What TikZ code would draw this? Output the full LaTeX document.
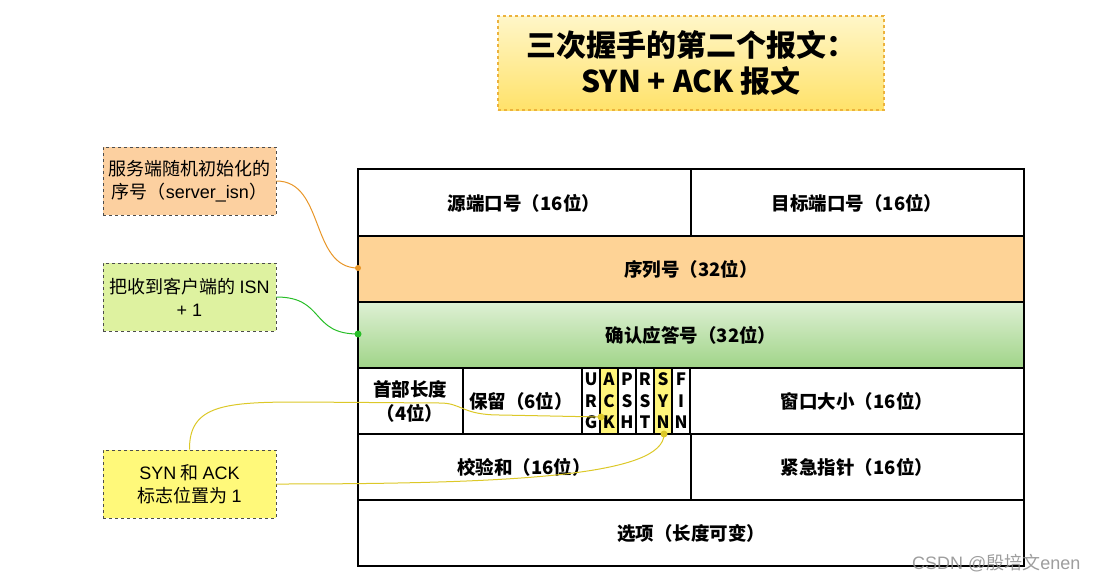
\documentclass[tikz,border=0pt]{standalone}
\usepackage{fontspec}
\setmainfont{Noto Sans CJK SC}
\newfontfamily\lat{Liberation Sans}
\usetikzlibrary{shadings}
\definecolor{peach}{RGB}{254,211,150}
\definecolor{boxpeach}{RGB}{252,208,160}
\definecolor{boxgreen}{RGB}{222,242,160}
\definecolor{boxyellow}{RGB}{255,249,122}
\definecolor{flagyellow}{RGB}{255,245,122}
\definecolor{gtop}{RGB}{222,240,212}
\definecolor{gbot}{RGB}{160,212,136}
\definecolor{ttop}{RGB}{255,246,200}
\definecolor{tbot}{RGB}{255,226,106}
\definecolor{tborder}{RGB}{236,178,60}
\definecolor{lorange}{RGB}{232,150,40}
\definecolor{lgreen}{RGB}{40,190,40}
\definecolor{lyellow}{RGB}{220,200,40}
\begin{document}
\begin{tikzpicture}[x=1pt,y=-1pt,
  cell/.style={draw=black,line width=1.7pt},
  celltext/.style={font=\fontsize{18.5}{22}\selectfont\bfseries,align=center},
  note/.style={draw=black!70,dashed,line width=0.9pt,minimum width=173pt,minimum height=68pt,align=center,font=\fontsize{18}{23}\selectfont,inner sep=1pt},
  flag/.style={font=\fontsize{17}{21.5}\selectfont\bfseries,align=center,inner sep=0pt},
  dot/.style={circle,fill,inner sep=0pt,minimum size=7pt}]
\useasboundingbox (0,0) rectangle (1096,582);
% title
\node[draw=tborder,dashed,line width=1.2pt,top color=ttop,bottom color=tbot,
  minimum width=386pt,minimum height=94pt,align=center,
  font=\fontsize{30}{36}\selectfont\bfseries] (title) at (691,63)
  {三次握手的第二个报文：\\SYN + ACK 报文};
% table fills
\fill[peach] (358,236) rectangle (1024,302);
\shade[top color=gtop,bottom color=gbot] (358,302) rectangle (1024,368);
\fill[flagyellow] (600,368) rectangle (618,434);
\fill[flagyellow] (654,368) rectangle (672,434);
% table lines
\draw[cell] (358,169) rectangle (1024,566);
\foreach \yy in {236,302,368,434,500} \draw[cell] (358,\yy) -- (1024,\yy);
\draw[cell] (691,169) -- (691,236);
\draw[cell] (691,434) -- (691,500);
\draw[cell] (463,368) -- (463,434);
\draw[cell] (582,368) -- (582,434);
\draw[cell] (690,368) -- (690,434);
\foreach \xx in {600,618,636,654,672} \draw[black,line width=1.2pt] (\xx,368) -- (\xx,434);
% table texts
\node[celltext] (src) at (524,203) {源端口号（16位）};
\node[celltext] (dst) at (857,203) {目标端口号（16位）};
\node[celltext] (seq) at (691,269) {序列号（32位）};
\node[celltext] (ack) at (691,335) {确认应答号（32位）};
\node[celltext,font=\fontsize{18.5}{24}\selectfont\bfseries] (hdr) at (410,401) {首部长度\\（4位）};
\node[celltext] (rsv) at (521,401) {保留（6位）};
\node[celltext] (win) at (857,401) {窗口大小（16位）};
\node[celltext] (chk) at (524,467) {校验和（16位）};
\node[celltext] (urg) at (857,467) {紧急指针（16位）};
\node[celltext] (opt) at (691,533) {选项（长度可变）};
\node[flag] (fU) at (591,401) {U\\R\\G};
\node[flag] (fA) at (609,401) {A\\C\\K};
\node[flag] (fP) at (627,401) {P\\S\\H};
\node[flag] (fR) at (645,401) {R\\S\\T};
\node[flag] (fS) at (663,401) {S\\Y\\N};
\node[flag] (fF) at (681,401) {F\\I\\N};
% notes
\node[note,fill=boxpeach] (n1) at (189.5,181) {服务端随机初始化的\\序号（{\lat server\_isn}）};
\node[note,fill=boxgreen] (n2) at (189.5,297) {把收到客户端的 {\lat ISN}\\{\lat + 1}};
\node[note,fill=boxyellow] (n3) at (189.5,484) {{\lat SYN} 和 {\lat ACK}\\标志位置为 {\lat 1}};
% connector endpoints
\node[dot,fill=lorange,minimum size=6pt] (d1) at (358,268) {};
\node[dot,fill=lgreen] (d2) at (358,334) {};
\node[dot,fill=lyellow] (d3) at (601,417) {};
\node[dot,fill=lyellow] (d4) at (664,434) {};
% connectors
\draw[lorange,line width=1pt] (n1.east) .. controls (325,181) and (310,268) .. (d1.center);
\draw[lgreen,line width=1pt] (n2.east) .. controls (325,297) and (310,334) .. (d2.center);
\draw[lyellow,line width=1pt] (n3.north) .. controls (189,405) and (225,402) .. (300,402)
  -- (440,403) .. controls (462,403) and (462,415) .. (500,415) -- (d3.center);
\draw[lyellow,line width=1pt] (n3.east) .. controls (520,484) and (664,475) .. (d4.center);
% watermark
\node[text=black!45,opacity=0.85,font=\fontsize{18}{20}\selectfont,anchor=east] (wm) at (1084,563) {{\lat CSDN @}殷培文{\lat enen}};
\end{tikzpicture}
\end{document}
